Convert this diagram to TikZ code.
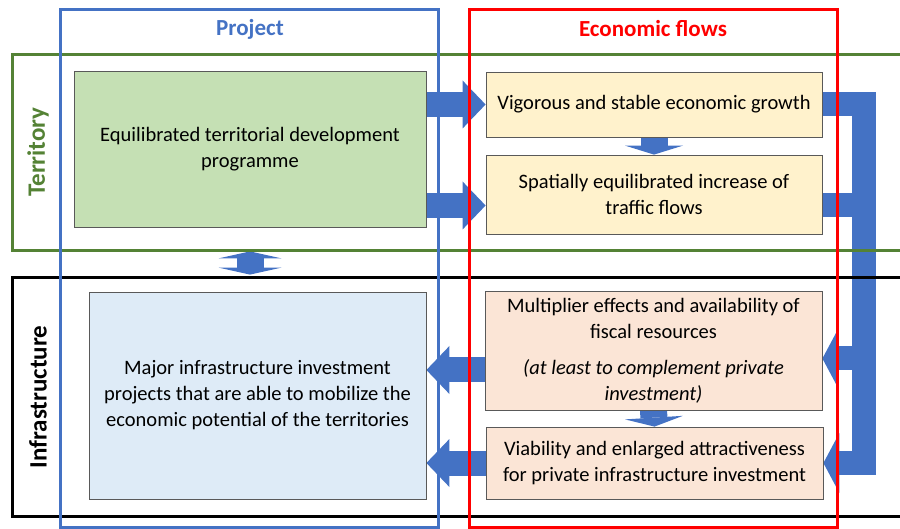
\documentclass[tikz,border=0pt]{standalone}
\usepackage{fontspec}
\setmainfont{Carlito}
\usetikzlibrary{arrows.meta,backgrounds}

\definecolor{offblue}{HTML}{4472C4}
\definecolor{offgreen}{HTML}{548235}
\definecolor{boxgreen}{HTML}{C5E0B4}
\definecolor{boxyellow}{HTML}{FFF2CC}
\definecolor{boxpeach}{HTML}{FBE5D6}
\definecolor{boxblue}{HTML}{DEEBF7}

\begin{document}
\begin{tikzpicture}[
    x=1pt, y=-1pt,
    font=\fontsize{20.5}{26}\selectfont,
    box/.style={draw=black!65, line width=0.8pt, align=center, inner sep=0pt},
    frame/.style={line width=3pt},
    title/.style={font=\fontsize{23}{28}\selectfont\bfseries},
    sidetitle/.style={font=\fontsize{25}{30}\selectfont\bfseries, rotate=90},
    flow/.style={offblue, line width=25pt, -{Triangle[length=23pt, width=48pt, line width=0pt]}},
    bigflow/.style={offblue, line width=24pt, line join=miter, -{Triangle[length=16pt, width=60pt, line width=0pt]}},
    bigline/.style={offblue, line width=24pt},
    downflow/.style={offblue, line width=27pt, -{Triangle[length=9pt, width=58pt, line width=0pt]}},
    bothflow/.style={offblue, line width=27pt, {Triangle[length=7pt, width=63pt, line width=0pt]}-{Triangle[length=7pt, width=63pt, line width=0pt]}},
]
    \useasboundingbox (0,0) rectangle (900,529);
    \clip (0,0) rectangle (900,529);

    % boxes
    \node[box, fill=boxgreen, minimum width=352pt, minimum height=156pt] (green) at (250,149)
        {Equilibrated territorial development\\programme};
    \node[box, fill=boxyellow, minimum width=336pt, minimum height=65pt] (vig) at (654,104.5)
        {Vigorous and stable economic growth};
    \node[box, fill=boxyellow, minimum width=336pt, minimum height=79pt] (traffic) at (654,194.5)
        {Spatially equilibrated increase of\\traffic flows};
    \node[box, fill=boxblue, minimum width=337pt, minimum height=207pt] (infra) at (257.5,395.5)
        {Major infrastructure investment\\projects that are able to mobilize the\\economic potential of the territories};
    \node[box, fill=boxpeach, minimum width=337pt, minimum height=119pt] (mult) at (653.5,350.5)
        {Multiplier effects and availability of\\fiscal resources\\[10pt]\itshape (at least to complement private\\\itshape investment)};
    \node[box, fill=boxpeach, minimum width=337pt, minimum height=72pt] (viab) at (654.5,463)
        {Viability and enlarged attractiveness\\for private infrastructure investment};

    % arrows
    \begin{scope}[on background layer]
        \draw[flow] (vig.west -| green.east) -- (vig.west);
        \coordinate (tr) at ([yshift=-11pt]traffic.west);
        \draw[flow] (tr -| green.east) -- (tr);
        \draw[downflow] (vig.south) -- (traffic.north);
        \draw[bothflow, shorten <=24pt, shorten >=17pt] (green.south) -- (green.south |- infra.north);
        \coordinate (ml) at ([yshift=-19.5pt]mult.west);
        \draw[flow] (ml) -- (ml -| infra.east);
        \draw[flow] (viab.west) -- (viab.west -| infra.east);
        \draw[downflow] (mult.south) -- (viab.north);
        \coordinate (bar) at ([xshift=42pt]vig.east);
        \draw[bigflow] (vig.east) -- (bar) |- (viab.east);
        \coordinate (te) at ([yshift=-11pt]traffic.east);
        \draw[bigline] (te) -- (te -| bar);
        \coordinate (me) at ([yshift=-8pt]mult.east);
        \draw[bigflow] (me -| bar) -- (me);
    \end{scope}

    % frames
    \draw[frame, offgreen] (12,55) rectangle (905,251);
    \draw[frame, black] (12,278) rectangle (905,516);
    \draw[frame, offblue] (60,10) rectangle (438,527);
    \draw[frame, red] (469,10) rectangle (837,527);

    \node[title, offblue] (projlabel) at (250,29) {Project};
    \node[title, red] (econlabel) at (653,29) {Economic flows};
    \node[sidetitle, offgreen] (terrlabel) at (38,152) {Territory};
    \node[sidetitle, black] (infrlabel) at (38,397) {Infrastructure};
\end{tikzpicture}
\end{document}
